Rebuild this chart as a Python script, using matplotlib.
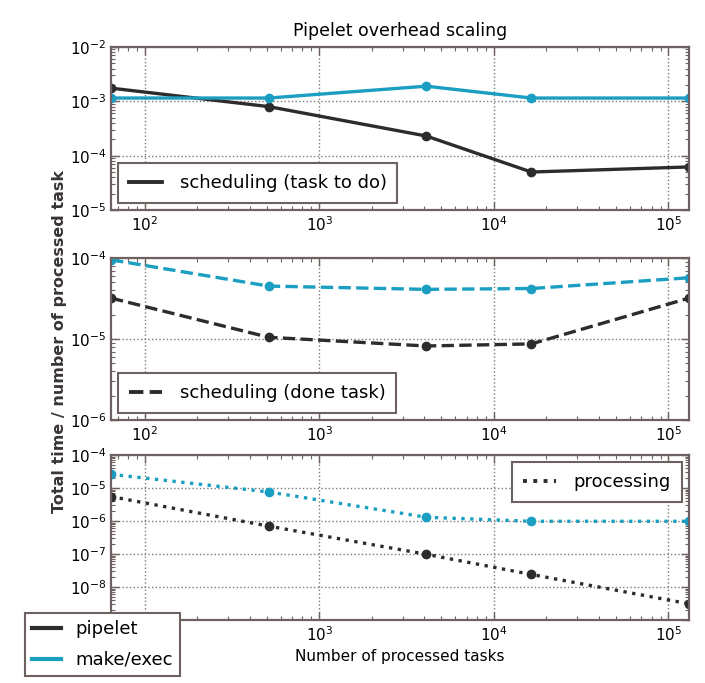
import matplotlib
matplotlib.use("Agg")
import matplotlib.pyplot as plt
from matplotlib.lines import Line2D

# Data
tasks = [64, 512, 4096, 16384, 131072]

sched_todo_pipelet = [1.75e-3, 8.0e-4, 2.3e-4, 5.0e-5, 6.2e-5]
sched_todo_make = [1.15e-3, 1.15e-3, 1.9e-3, 1.15e-3, 1.15e-3]

sched_done_pipelet = [3.2e-5, 1.05e-5, 8.2e-6, 8.7e-6, 3.2e-5]
sched_done_make = [9.5e-5, 4.5e-5, 4.1e-5, 4.2e-5, 5.7e-5]

proc_pipelet = [5.5e-6, 7.0e-7, 9.8e-8, 2.4e-8, 3.1e-9]
proc_make = [2.6e-5, 7.6e-6, 1.3e-6, 9.8e-7, 9.8e-7]

panel_labels = ["scheduling (task to do)", "scheduling (done task)", "processing"]
tool_labels = ["pipelet", "make/exec"]
ylims = [(1e-5, 1e-2), (1e-6, 1e-4), (1e-9, 1e-4)]

BLACK = "#2e2b2b"
CYAN = "#1a9ec2"
FRAME = "#6e6260"

plt.rcParams["font.family"] = ["DejaVu Sans"]

fig = plt.figure(figsize=(7.05, 6.83), dpi=100)
W, H = 705, 683
left, right = 111 / W, 689 / W
tops = [47, 258, 455]
bots = [210, 420, 620]

series = [
    (sched_todo_pipelet, sched_todo_make, "-"),
    (sched_done_pipelet, sched_done_make, "--"),
    (proc_pipelet, proc_make, ":"),
]
legend_locs = ["lower left", "lower left", "upper right"]

axes = []
for i in range(3):
    ax = fig.add_axes([left, 1 - bots[i] / H, right - left, (bots[i] - tops[i]) / H])
    axes.append(ax)
    p, m, ls = series[i]
    ax.plot(tasks, p, linestyle=ls, color=BLACK, lw=2.4, marker="o", ms=6)
    ax.plot(tasks, m, linestyle=ls, color=CYAN, lw=2.4, marker="o", ms=6)
    ax.set_xscale("log")
    ax.set_yscale("log")
    ax.set_xlim(tasks[0], tasks[-1])
    ax.set_ylim(*ylims[i])
    ax.grid(True, which="major", linestyle=":", color="#7a7a7a", lw=1.0)
    ax.tick_params(which="both", direction="in", top=True, right=True,
                   labelsize=11, color=FRAME)
    ax.tick_params(which="major", length=6, width=1)
    ax.tick_params(which="minor", length=3, width=0.8)
    for s in ax.spines.values():
        s.set_color(FRAME)
        s.set_linewidth(1.6)
    h = Line2D([], [], linestyle=ls, color=BLACK, lw=2.8)
    leg = ax.legend([h], [panel_labels[i]], loc=legend_locs[i], fontsize=13,
                    fancybox=False, framealpha=1, edgecolor=FRAME,
                    handlelength=1.8, handletextpad=1.0, borderpad=0.6,
                    borderaxespad=0.4)
    leg.get_frame().set_linewidth(1.5)
    ax.set_axisbelow(True)

# labels hidden behind the figure legend in the reference
fig.canvas.draw()
for lab in axes[2].get_yticklabels():
    if lab.get_position()[1] <= 1.01e-9:
        lab.set_visible(False)
for lab in axes[2].get_xticklabels():
    if abs(lab.get_position()[0] - 100) < 1:
        lab.set_visible(False)

axes[0].set_title("Pipelet overhead scaling", fontsize=12.5, pad=8)
axes[2].set_xlabel("Number of processed tasks", fontsize=11)
fig.text(0.085, 0.5, "Total time / number of processed task", rotation=90,
         ha="center", va="center", fontsize=11.5, fontweight="bold",
         color="#3a3535")

handles = [Line2D([], [], color=BLACK, lw=3), Line2D([], [], color=CYAN, lw=3)]
fl = fig.legend(handles, tool_labels, loc="upper left",
                bbox_to_anchor=(25 / W, 1 - 613 / H), fontsize=13,
                fancybox=False, framealpha=1, edgecolor=FRAME,
                handlelength=1.6, labelspacing=0.7, borderaxespad=0)
fl.get_frame().set_linewidth(1.5)

fig.savefig("out.png", dpi=100)
